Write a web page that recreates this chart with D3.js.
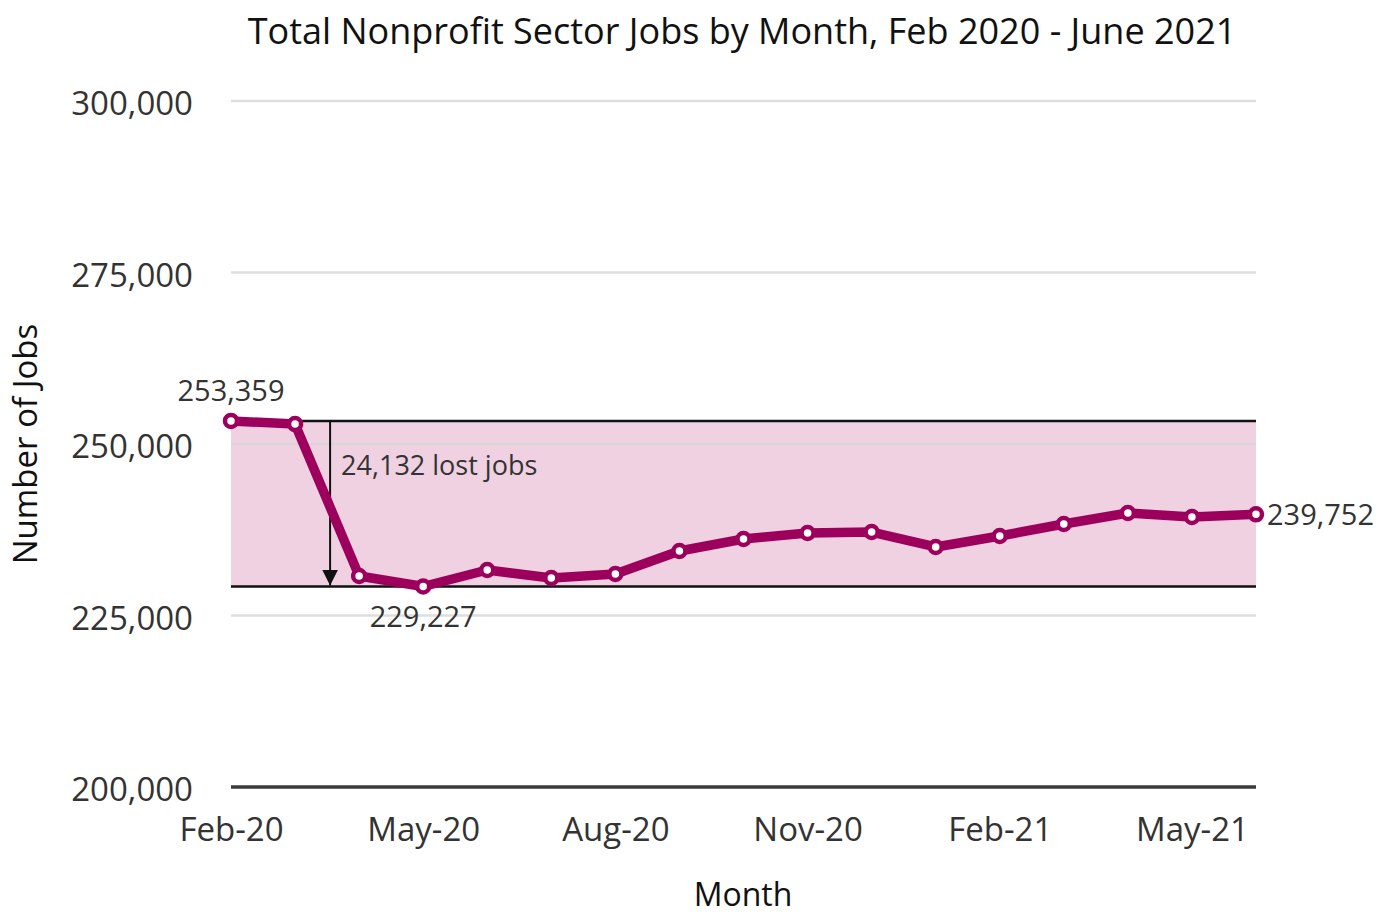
<!DOCTYPE html>
<html>
<head>
<meta charset="utf-8">
<script src="https://cdn.jsdelivr.net/npm/d3@7"></script>
<style>
  body { margin: 0; background: #fff; font-family: "Open Sans", sans-serif; }
  svg text { font-family: "Open Sans", sans-serif; }
</style>
</head>
<body>
<div id="chart"></div>
<script>
const months = ['Feb-20', 'Mar-20', 'Apr-20', 'May-20', 'Jun-20', 'Jul-20', 'Aug-20', 'Sep-20', 'Oct-20', 'Nov-20', 'Dec-20', 'Jan-21', 'Feb-21', 'Mar-21', 'Apr-21', 'May-21', 'Jun-21'];
const jobs = [253359, 252900, 230760, 229227, 231630, 230470, 231050, 234400, 236150, 237030, 237170, 234990, 236590, 238340, 239940, 239360, 239752];
const xTicks = ['Feb-20', 'May-20', 'Aug-20', 'Nov-20', 'Feb-21', 'May-21'];
const yTicks = [200000, 225000, 250000, 275000, 300000];
const peak = 253359, trough = 229227;

const W = 1392, H = 916;
const margin = { top: 101, right: 136, bottom: 129, left: 231 };
const width = W - margin.left - margin.right;
const height = H - margin.top - margin.bottom;
const fmt = d3.format(',');
const lineColor = '#9c005c';

const svg = d3.select('#chart').append('svg').attr('width', W).attr('height', H);
const g = svg.append('g').attr('transform', `translate(${margin.left},${margin.top})`);

const x = d3.scalePoint().domain(months).range([0, width]);
const y = d3.scaleLinear().domain([200000, 300000]).range([height, 0]);

// shaded band
g.append('rect').attr('x', 0).attr('width', width)
  .attr('y', y(peak)).attr('height', y(trough) - y(peak))
  .attr('fill', '#efd1e1');

// gridlines
g.selectAll('line.grid').data(yTicks.filter(d => d > 200000)).enter().append('line')
  .attr('class', 'grid').attr('x1', 0).attr('x2', width)
  .attr('y1', d => y(d)).attr('y2', d => y(d))
  .attr('stroke', '#d6d6d6').attr('stroke-opacity', 0.8).attr('stroke-width', 2.5);

// baseline
g.append('line').attr('x1', 0).attr('x2', width).attr('y1', y(200000)).attr('y2', y(200000))
  .attr('stroke', '#3a3a3a').attr('stroke-width', 3.5);

// band edges
[peak, trough].forEach(v => {
  g.append('line').attr('x1', 0).attr('x2', width).attr('y1', y(v)).attr('y2', y(v))
    .attr('stroke', '#111').attr('stroke-width', 2.5);
});

// y axis labels
const yAxis = g.append('g').call(d3.axisLeft(y).tickValues(yTicks).tickFormat(fmt).tickSize(0).tickPadding(38));
yAxis.select('.domain').remove();
yAxis.selectAll('text').attr('font-size', 33).attr('fill', '#333').attr('dy', '0.42em');

// x axis labels
const xAxis = g.append('g').attr('transform', `translate(0,${height})`)
  .call(d3.axisBottom(x).tickValues(xTicks).tickSize(0).tickPadding(31));
xAxis.select('.domain').remove();
xAxis.selectAll('text').attr('font-size', 33).attr('fill', '#333');

// axis titles
svg.append('text').attr('transform', `translate(37,${margin.top + y(250000)}) rotate(-90)`)
  .attr('text-anchor', 'middle').attr('font-size', 33).attr('fill', '#111').text('Number of Jobs');
svg.append('text').attr('x', 743).attr('y', 906).attr('text-anchor', 'middle')
  .attr('font-size', 32).attr('fill', '#111').text('Month');

// title
svg.append('text').attr('x', 742).attr('y', 44).attr('text-anchor', 'middle')
  .attr('font-size', 36).attr('fill', '#111').text('Total Nonprofit Sector Jobs by Month, Feb 2020 - June 2021');

// arrow
svg.append('defs').append('marker').attr('id', 'arr').attr('viewBox', '0 0 10 10')
  .attr('refX', 10).attr('refY', 5).attr('markerWidth', 16).attr('markerHeight', 16)
  .attr('markerUnits', 'userSpaceOnUse').attr('orient', 'auto')
  .append('path').attr('d', 'M0,0L10,5L0,10z').attr('fill', '#111');
const ax = (x('Mar-20') + x('Apr-20')) / 2 + 3;
g.append('line').attr('x1', ax).attr('x2', ax).attr('y1', y(peak)).attr('y2', y(trough) - 1)
  .attr('stroke', '#111').attr('stroke-width', 2).attr('marker-end', 'url(#arr)');
g.append('text').attr('x', ax + 11).attr('y', y(peak) + 54).attr('font-size', 27).attr('fill', '#333')
  .text(`${fmt(peak - trough)} lost jobs`);

// line
g.append('path').datum(jobs)
  .attr('d', d3.line().x((d, i) => x(months[i])).y(d => y(d)))
  .attr('fill', 'none').attr('stroke', lineColor).attr('stroke-width', 9.5).attr('stroke-linejoin', 'round');

g.selectAll('circle.pt').data(jobs).enter().append('circle').attr('class', 'pt')
  .attr('cx', (d, i) => x(months[i])).attr('cy', d => y(d)).attr('r', 6)
  .attr('fill', '#fff').attr('stroke', lineColor).attr('stroke-width', 4.5);

// value labels
g.append('text').attr('x', x('Feb-20')).attr('y', y(peak) - 20).attr('text-anchor', 'middle')
  .attr('font-size', 29).attr('fill', '#333').text(fmt(peak));
g.append('text').attr('x', x('May-20')).attr('y', y(trough) + 40).attr('text-anchor', 'middle')
  .attr('font-size', 29).attr('fill', '#333').text(fmt(trough));
g.append('text').attr('x', x('Jun-21') + 11).attr('y', y(jobs[jobs.length - 1]) + 11)
  .attr('font-size', 29).attr('fill', '#333').text(fmt(jobs[jobs.length - 1]));
</script>
</body>
</html>
